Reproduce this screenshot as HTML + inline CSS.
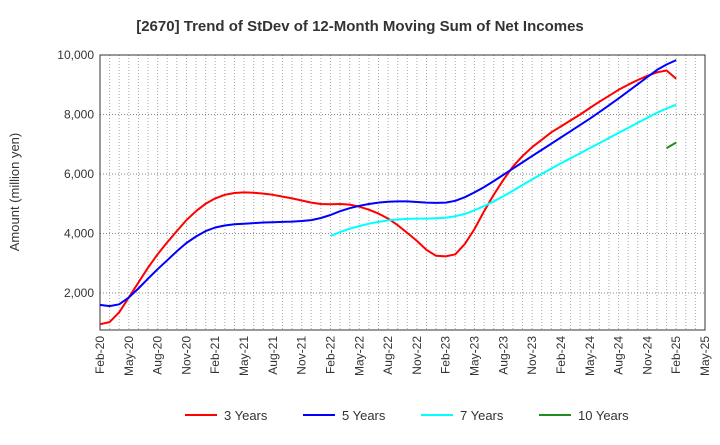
<!DOCTYPE html>
<html><head><meta charset="utf-8"><style>
body{margin:0;background:#fff;font-family:"Liberation Sans",sans-serif}
svg text{font-family:"Liberation Sans",sans-serif}
</style></head><body>
<svg id="chart" width="720" height="440" xmlns="http://www.w3.org/2000/svg">
<text x="360" y="31" text-anchor="middle" font-size="15" font-weight="bold" fill="#333">[2670]  Trend of StDev of 12-Month Moving Sum of Net Incomes</text>
<text transform="translate(19,192) rotate(-90)" text-anchor="middle" font-size="13" fill="#333">Amount (million yen)</text>
<g id="grid"></g><g id="axes"></g><g id="series"></g><g id="legend"></g>
</svg>
<script>
const xLabels=["Feb-20","May-20","Aug-20","Nov-20","Feb-21","May-21","Aug-21","Nov-21","Feb-22","May-22","Aug-22","Nov-22","Feb-23","May-23","Aug-23","Nov-23","Feb-24","May-24","Aug-24","Nov-24","Feb-25","May-25"];
const yTicks=[2000,4000,6000,8000,10000];
const seriesNames=["3 Years","5 Years","7 Years","10 Years"];
const seriesColors=["#ff0000","#0000ff","#00ffff","#228b22"];
const s3=[950,1020,1350,1850,2350,2850,3300,3700,4080,4450,4750,
5000,5180,5300,5360,5380,5370,5340,5300,5240,5180,5110,5040,
4990,4980,4990,4970,4900,4800,4670,4500,4280,4020,3750,3450,
3250,3230,3300,3650,4150,4750,5300,5800,6250,6600,6900,7150,
7400,7600,7800,8000,8220,8430,8630,8830,9000,9160,9300,9420,
9480,9200];
const s5=[1600,1560,1620,1850,2150,2480,2800,3100,3400,3680,3900,
4080,4200,4270,4310,4330,4350,4370,4380,4390,4400,4420,4450,
4520,4620,4750,4850,4930,4990,5040,5070,5080,5080,5060,5040,
5030,5040,5100,5220,5380,5560,5760,5970,6180,6390,6600,6810,
7020,7230,7440,7650,7860,8080,8310,8540,8780,9020,9260,9500,
9680,9830];
const s7=[null,null,null,null,null,null,null,null,null,null,null,
null,null,null,null,null,null,null,null,null,null,null,null,
null,3920,4050,4160,4250,4330,4390,4440,4470,4490,4500,4500,
4510,4530,4580,4660,4780,4920,5080,5250,5440,5630,5820,6000,
6180,6360,6530,6700,6870,7040,7210,7380,7550,7720,7890,8060,
8200,8330];
const s10=[];for(let i=0;i<59;i++)s10.push(null);s10.push(6870,7060);
const allSeries=[s3,s5,s7,s10];

const X0=100,X1=705,Y0=330,Y1=55,VMIN=756,VMAX=10000,NM=63;
const xs=i=>X0+(X1-X0)*i/NM;
const ys=v=>Y0-(v-VMIN)*(Y0-Y1)/(VMAX-VMIN);
const NS="http://www.w3.org/2000/svg";
function mk(tag,parent,attrs){const e=document.createElementNS(NS,tag);for(const k in attrs)e.setAttribute(k,attrs[k]);parent.appendChild(e);return e;}
const grid=document.getElementById('grid'),axes=document.getElementById('axes'),ser=document.getElementById('series'),leg=document.getElementById('legend');
for(let m=1;m<NM;m++){const l=mk('line',grid,{x1:xs(m),x2:xs(m),y1:Y1,y2:Y0,stroke:'#aaa','stroke-dasharray':'1,2','stroke-width':1});

}
yTicks.forEach(v=>{const l=mk('line',grid,{x1:X0,x2:X1,y1:ys(v),y2:ys(v),stroke:'#888','stroke-dasharray':'1,2','stroke-width':1});


const t=mk('text',axes,{x:X0-6,y:ys(v)+4,'text-anchor':'end','font-size':12,fill:'#333'});t.textContent=v.toLocaleString('en-US');

});
const fr=mk('rect',axes,{x:X0,y:Y1,width:X1-X0,height:Y0-Y1,fill:'none',stroke:'#333','stroke-width':1});


xLabels.forEach((lab,i)=>{const x=xs(i*3);const t=mk('text',axes,{transform:`translate(${x+4},${Y0+6}) rotate(-90)`,'text-anchor':'end','font-size':12,fill:'#333'});t.textContent=lab;

});
allSeries.forEach((s,si)=>{let d='',pen=false;s.forEach((v,i)=>{if(v==null){pen=false;return;}d+=(pen?'L':'M')+xs(i).toFixed(1)+','+ys(v).toFixed(1);pen=true;});
const p=mk('path',ser,{d:d,fill:'none',stroke:seriesColors[si],'stroke-width':2,'stroke-linejoin':'round'});

});
const lx=[185,303,421,539];
seriesNames.forEach((n,i)=>{const g=mk('g',leg,{});


mk('line',g,{x1:lx[i],x2:lx[i]+32,y1:415,y2:415,stroke:seriesColors[i],'stroke-width':2});
const t=mk('text',g,{x:lx[i]+39,y:420,'font-size':13,fill:'#333'});t.textContent=n;});
</script>
</body></html>
